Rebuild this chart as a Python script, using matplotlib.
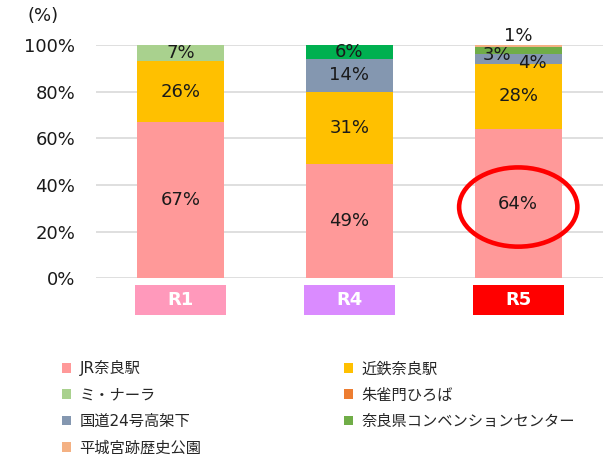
import numpy as np
import matplotlib.pyplot as plt
from matplotlib.patches import Rectangle, Ellipse, Patch
import matplotlib.transforms as mtransforms

plt.rcParams['font.family'] = ['DejaVu Sans', 'Noto Sans CJK JP']

# datos
years = ['R1', 'R4', 'R5']
year_colors = ['#FF99BB', '#DA8BFF', '#FF0000']
series = ['JR奈良駅', '近鉄奈良駅', 'ミ・ナーラ', '朱雀門ひろば',
          '国道24号高架下', '奈良県コンベンションセンター', '平城宮跡歴史公園']
jr = [67, 49, 64]
kintetsu = [26, 31, 28]
minara = [7, 0, 0]
suzakumon = [0, 0, 0]
kokudo = [0, 14, 4]
convention = [0, 6, 3]
heijo = [0.5, 0, 1]
valores = [jr, kintetsu, minara, suzakumon, kokudo, convention, heijo]
colores = ['#FF9999', '#FFC000', '#A9D18E', '#ED7D31', '#8497B0', '#70AD47', '#F4B183']

fig = plt.figure(figsize=(6.15, 4.62), dpi=100)
ax = fig.add_axes([0.156, 0.398, 0.824, 0.5045])

x = np.arange(len(years))
ancho = 0.515
base = np.zeros(len(years))
for i, (nombre, vals) in enumerate(zip(series, valores)):
    vals = np.array(vals, dtype=float)
    cols = [colores[i]] * len(years)
    if i == 5:
        cols[1] = '#00B050'  # el verde de R4 es mas brillante
    ax.bar(x, vals, ancho, bottom=base, color=cols, zorder=2)
    for j, v in enumerate(vals):
        if v < 1:
            continue
        cy = base[j] + v / 2
        dx, dy = 0, 0
        if j == 2 and i == 6:
            dy = 7.5
        elif j == 2 and i == 5:
            dx, dy = -15, -3
        elif j == 2 and i == 4:
            dx, dy = 10, -3
        ax.annotate(f'{int(round(v))}%', (x[j], cy), xytext=(dx, dy),
                    textcoords='offset points', ha='center', va='center',
                    fontsize=13, color='#1a1a1a', zorder=4)
    base += vals

ax.set_xlim(-0.5, 2.5)
ax.set_ylim(0, 100)
ax.set_yticks(np.arange(0, 101, 20))
ax.set_yticklabels([f'{t}%' for t in range(0, 101, 20)], fontsize=13, color='#1a1a1a')
ax.yaxis.grid(True, color='#D9D9D9', linewidth=1.2, zorder=0)
ax.tick_params(axis='y', length=0, pad=15)
ax.set_xticks([])
for s in ax.spines.values():
    s.set_visible(False)
fig.text(0.045, 0.965, '(%)', fontsize=13, color='#1a1a1a', ha='left', va='center')

# cajas de los años
trans = mtransforms.blended_transform_factory(ax.transData, ax.transAxes)
for j, (yr, c) in enumerate(zip(years, year_colors)):
    ax.add_patch(Rectangle((x[j] - 0.27, -0.159), 0.54, 0.129, transform=trans,
                           facecolor=c, edgecolor='none', clip_on=False))
    ax.text(x[j], -0.094, yr, transform=trans, ha='center', va='center',
            color='white', fontsize=13, fontweight='bold')

# circulo rojo en R5
ax.add_patch(Ellipse((x[2], 30.5), 0.70, 34, facecolor='none',
                     edgecolor='#FF0000', linewidth=3.3, zorder=5, clip_on=False))

# leyenda (orden por columnas)
orden = [0, 2, 4, 6, 1, 3, 5]
handles = [Patch(facecolor=colores[k], edgecolor='none') for k in orden]
labels = [series[k] for k in orden]
fig.legend(handles, labels, ncol=2, loc='upper left', bbox_to_anchor=(0.101, 0.22),
           frameon=False, fontsize=11, handlelength=0.6, handleheight=0.6,
           handletextpad=0.55, labelspacing=0.74, columnspacing=9.3,
           labelcolor='#262626', borderaxespad=0, borderpad=0)

fig.savefig('out.png', dpi=100)
